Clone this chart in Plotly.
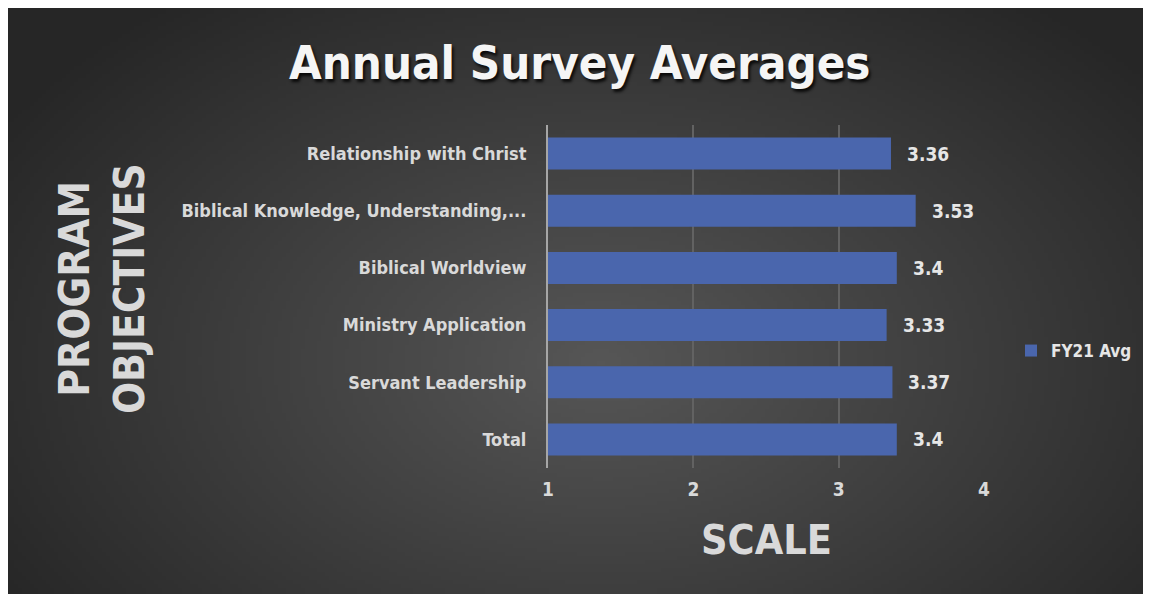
import base64
import struct
import zlib

import plotly.graph_objects as go

# ---- data ----
categories = [
    "Relationship with Christ",
    "Biblical Knowledge, Understanding,...",
    "Biblical Worldview",
    "Ministry Application",
    "Servant Leadership",
    "Total",
]
fy21_avg = [3.36, 3.53, 3.4, 3.33, 3.37, 3.4]
series_name = "FY21 Avg"
x_ticks = [1, 2, 3, 4]

FONT = "Liberation Sans Narrow, DejaVu Sans Condensed, Arial Narrow, sans-serif"

# page body has an 8px margin; figure coordinates = screen px - 8
OFF = 8
W, H = 1138, 586
L, R, T, B = 548 - OFF, 984 - OFF, 125 - OFF, 468 - OFF


def px_x(sx):
    return (sx - OFF - L) / (R - L)


def px_y(sy):
    return (B - (sy - OFF)) / (B - T)


# ---- radial gradient background as an inline PNG ----
def gradient_png(w, h):
    rows = []
    cx, cy = 0.52 * w, 0.6 * h
    for j in range(h):
        row = bytearray([0])
        for i in range(w):
            dx = (i - cx) / (w * 0.62)
            dy = (j - cy) / (h * 0.78)
            d = min(1.0, (dx * dx + dy * dy) ** 0.5)
            v = int(round(86 - 48 * d))
            row += bytes([v, v, v])
        rows.append(bytes(row))
    raw = b"".join(rows)

    def chunk(tag, data):
        c = struct.pack(">I", len(data)) + tag + data
        return c + struct.pack(">I", zlib.crc32(tag + data) & 0xFFFFFFFF)

    png = b"\x89PNG\r\n\x1a\n"
    png += chunk(b"IHDR", struct.pack(">IIBBBBB", w, h, 8, 2, 0, 0, 0))
    png += chunk(b"IDAT", zlib.compress(raw, 9))
    png += chunk(b"IEND", b"")
    return "data:image/png;base64," + base64.b64encode(png).decode()


pw, ph = R - L, B - T

fig = go.Figure()
fig.add_trace(
    go.Bar(
        y=categories,
        x=fy21_avg,
        orientation="h",
        name=series_name,
        marker=dict(color="#4a66ad", line=dict(width=0)),
        width=0.56,
        showlegend=True,
    )
)

annotations = []
for c, v in zip(categories, fy21_avg):
    annotations.append(
        dict(
            x=v, y=c, xref="x", yref="y", text=f"{v:g}", showarrow=False,
            xanchor="left", yanchor="middle", xshift=14,
            font=dict(family=FONT, size=19, color="#e6e6e6", weight="bold"),
        )
    )

# title
annotations.append(
    dict(
        x=px_x(580), y=px_y(62), xref="paper", yref="paper",
        text="Annual Survey Averages", showarrow=False,
        xanchor="center", yanchor="middle",
        font=dict(family=FONT, size=47, color="#f5f5f5", weight="bold",
                  shadow="2px 3px 3px rgba(0,0,0,0.8)"),
    )
)
# x axis title
annotations.append(
    dict(
        x=0.5, y=px_y(540), xref="paper", yref="paper",
        text="SCALE", showarrow=False, xanchor="center", yanchor="middle",
        font=dict(family=FONT, size=41, color="#d9d9d9", weight="bold"),
    )
)
# y axis title
annotations.append(
    dict(
        x=px_x(102), y=px_y(289), xref="paper", yref="paper",
        text="PROGRAM<br>OBJECTIVES", showarrow=False, textangle=-90,
        xanchor="center", yanchor="middle",
        font=dict(family=FONT, size=42, color="#d9d9d9", weight="bold"),
    )
)

fig.update_layout(
    width=W, height=H,
    margin=dict(l=L, r=W - R, t=T, b=H - B, pad=0, autoexpand=False),
    paper_bgcolor="#3c3c3c",
    plot_bgcolor="rgba(0,0,0,0)",
    images=[
        dict(
            source=gradient_png(285, 147), xref="paper", yref="paper",
            x=-L / pw, y=B / ph, sizex=W / pw, sizey=H / ph,
            xanchor="left", yanchor="top", sizing="stretch", layer="below",
        )
    ],
    xaxis=dict(
        range=[1, 4], tickvals=x_ticks, ticktext=[str(t) for t in x_ticks],
        showgrid=True, gridcolor="#626262", gridwidth=1.5,
        zeroline=False, showline=False, ticks="", ticklabelstandoff=8,
        tickfont=dict(family=FONT, size=19, color="#d9d9d9", weight="bold"),
    ),
    yaxis=dict(
        categoryorder="array", categoryarray=categories, autorange="reversed",
        showgrid=False, zeroline=False, showline=True, linecolor="#a6a6a6",
        linewidth=2, ticks="", ticklabelstandoff=16,
        tickfont=dict(family=FONT, size=18, color="#d9d9d9", weight="bold"),
    ),
    legend=dict(
        x=px_x(1011), y=px_y(351), xanchor="left", yanchor="middle",
        bgcolor="rgba(0,0,0,0)",
        font=dict(family=FONT, size=17, color="#e6e6e6", weight="bold"),
        itemwidth=30,
    ),
    annotations=annotations,
    bargap=0.44,
)

fig.write_html("out.html")
